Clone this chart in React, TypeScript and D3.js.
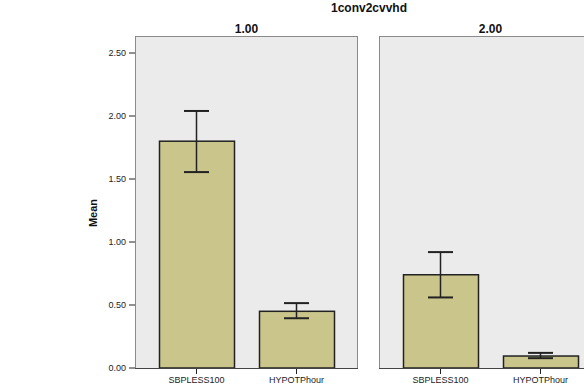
import * as d3 from 'd3';

const groups = ['1.00', '2.00'];
const categories = ['SBPLESS100', 'HYPOTPhour'];
const means = [
  [1.8, 0.45],
  [0.74, 0.095],
];
const lower = [
  [1.555, 0.395],
  [0.56, 0.078],
];
const upper = [
  [2.04, 0.515],
  [0.92, 0.12],
];
const yTicks = [0, 0.5, 1, 1.5, 2, 2.5];

const W = 584;
const H = 385;
const font = 'Liberation Sans, Arial, sans-serif';

export default function App() {
  const top = 36;
  const bottom = 368;
  const panelW = 223;
  const panelX = [135, 379];

  const y = d3.scaleLinear().domain([0, 2.635]).range([bottom, top]);
  const x = d3.scaleBand<string>().domain(categories).range([0, panelW]).paddingInner(0.25).paddingOuter(0.24);
  const capW = 25;

  return (
    <svg width={W} height={H} style={{ position: 'absolute', left: 0, top: 0, background: '#fff' }}>
      <text x={369} y={12} textAnchor="middle" fontFamily={font} fontWeight="bold" fontSize={12} fill="#111">1conv2cvvhd</text>
      <text transform={`translate(97,213) rotate(-90)`} textAnchor="middle" fontFamily={font} fontWeight="bold" fontSize={11} fill="#111">Mean</text>

      {/* y axis */}
      {yTicks.map(t => (
        <g key={t}>
          <line x1={panelX[0] - 6} x2={panelX[0]} y1={y(t)} y2={y(t)} stroke="#222" strokeWidth={1} />
          <text x={panelX[0] - 9} y={y(t)} dy="0.35em" textAnchor="end" fontFamily={font} fontSize={9} fill="#222">{d3.format('.2f')(t)}</text>
        </g>
      ))}

      {groups.map((gName, gi) => (
        <g key={gName} transform={`translate(${panelX[gi]},0)`}>
          <text x={panelW / 2} y={33} textAnchor="middle" fontFamily={font} fontWeight="bold" fontSize={12} fill="#111">{gName}</text>
          <rect x={0.5} y={top + 0.5} width={panelW - 1} height={bottom - top} fill="#ebebeb" stroke="#8a8a8a" strokeWidth={1} />
          {categories.map((c, ci) => {
            const cx = x(c)! + x.bandwidth() / 2;
            return (
              <g key={c}>
                <rect x={x(c)! + 0.5} y={y(means[gi][ci])} width={x.bandwidth()} height={bottom - y(means[gi][ci])}
                  fill="#c9c58b" stroke="#222" strokeWidth={1.5} />
                <line x1={cx} x2={cx} y1={y(upper[gi][ci])} y2={y(lower[gi][ci])} stroke="#222" strokeWidth={1.5} />
                <line x1={cx - capW / 2} x2={cx + capW / 2} y1={y(upper[gi][ci])} y2={y(upper[gi][ci])} stroke="#222" strokeWidth={2} />
                <line x1={cx - capW / 2} x2={cx + capW / 2} y1={y(lower[gi][ci])} y2={y(lower[gi][ci])} stroke="#222" strokeWidth={2} />
                <line x1={cx} x2={cx} y1={bottom} y2={bottom + 6} stroke="#222" strokeWidth={1} />
                <text x={cx} y={383} textAnchor="middle" fontFamily={font} fontSize={9} fill="#222">{c}</text>
              </g>
            );
          })}
          <line x1={0} x2={panelW} y1={bottom + 0.5} y2={bottom + 0.5} stroke="#444" strokeWidth={1} />
        </g>
      ))}
    </svg>
  );
}
